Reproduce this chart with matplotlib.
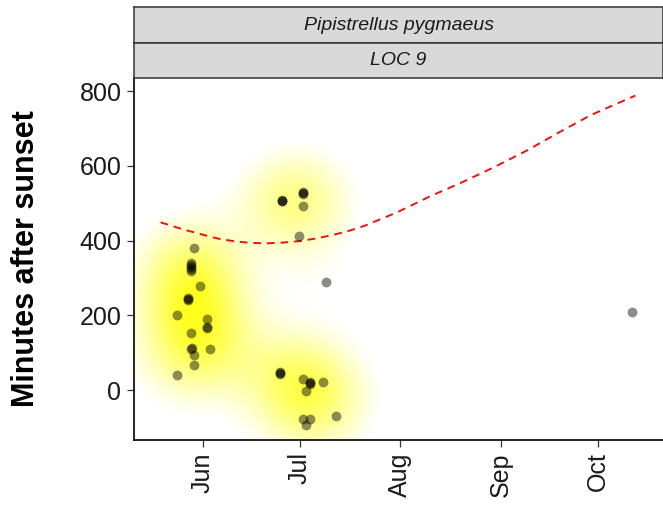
import numpy as np
import matplotlib.pyplot as plt

plt.rcParams['font.family'] = ['Liberation Sans', 'DejaVu Sans']

species = 'Pipistrellus pygmaeus'
site = 'LOC 9'

# day of year (1 Jun = 152) and minutes after sunset of each bat pass
call_day = [149.4, 148.3, 148.3, 148.3, 148.3, 148.3, 151.3, 147.4, 147.4, 147.4,
            144.2, 153.4, 153.4, 153.4, 148.3, 148.3, 148.6, 149.4, 154.3, 149.4, 144.2,
            176.6, 176.6, 176.6, 183.0, 183.0, 183.0, 183.0, 181.8, 189.9,
            175.8, 175.8, 175.8, 182.8, 185.0, 185.0, 185.0, 189.1, 184.0,
            182.8, 185.0, 184.0, 193.0,
            284.4]
call_min = [381, 341, 336, 330, 324, 318, 280, 242, 244, 246,
            202, 191, 166, 169, 153, 110, 112, 94, 110, 68, 42,
            505, 507, 509, 526, 528, 530, 492, 412, 290,
            44, 47, 50, 30, 18, 20, 22, 22, -3,
            -76, -76, -93, -69,
            210]

# night length (sunrise in minutes after sunset)
night_day = [139, 146, 152, 157, 162, 167, 172, 177, 182, 187, 192, 197, 202,
             212, 222, 232, 242, 252, 262, 272, 285.5]
night_min = [449, 430, 416, 405, 398, 394, 393, 395, 399, 406, 415, 426, 440,
             476, 518, 556, 597, 641, 690, 737, 788]

month_days = [152, 182, 213, 244, 274]
month_labels = ['Jun', 'Jul', 'Aug', 'Sep', 'Oct']
y_ticks = [0, 200, 400, 600, 800]

xlim = (130.8, 294.0)
ylim = (-133, 835)

fig = plt.figure(figsize=(6.63, 5.07), dpi=100)
ax = fig.add_axes([134 / 663, 1 - 440 / 507, 529 / 663, 362 / 507])

# 2d kernel density of the passes, white -> yellow
gx = np.linspace(xlim[0], xlim[1], 400)
gy = np.linspace(ylim[0], ylim[1], 400)
X, Y = np.meshgrid(gx, gy)
dens = np.zeros_like(X)
for xd, yd in zip(call_day, call_min):
    dens += np.exp(-0.5 * (((X - xd) / 11.5) ** 2 + ((Y - yd) / 90.0) ** 2))
dens /= dens.max()
rgba = np.zeros(X.shape + (4,))
rgba[..., 0] = 1.0
rgba[..., 1] = 1.0
rgba[..., 2] = 0.0
rgba[..., 3] = 0.88 * np.clip((dens - 0.12) / 0.85, 0, 1)
ax.imshow(rgba, extent=(xlim[0], xlim[1], ylim[0], ylim[1]), origin='lower',
          aspect='auto', interpolation='bilinear', zorder=0)

ax.plot(night_day, night_min, color='#EE1111', lw=1.4, dashes=(4, 3), zorder=2)
ax.scatter(call_day, call_min, s=50, color='black', alpha=0.45, linewidths=0, zorder=3)

ax.set_xlim(xlim)
ax.set_ylim(ylim)
ax.set_xticks(month_days)
ax.set_xticklabels(month_labels, rotation=90)
ax.set_yticks(y_ticks)
ax.tick_params(labelsize=18, length=5, width=0.9, color='#333333', pad=4,
               labelcolor='#1A1A1A')
for s in ['top', 'right']:
    ax.spines[s].set_visible(False)
for s in ['left', 'bottom']:
    ax.spines[s].set_linewidth(1.2)
    ax.spines[s].set_color('black')
ax.set_ylabel('Minutes after sunset', fontsize=22, fontweight='bold', labelpad=28)

# facet strips
for top, bottom, label in [(7, 43, species), (43, 78, site)]:
    sax = fig.add_axes([134 / 663, 1 - bottom / 507, 529 / 663, (bottom - top) / 507])
    sax.set_facecolor('#D9D9D9')
    sax.set_xticks([])
    sax.set_yticks([])
    for s in sax.spines.values():
        s.set_color('#333333')
        s.set_linewidth(1.1)
    sax.text(0.5, 0.5, label, ha='center', va='center', fontsize=14,
             style='italic', color='#1A1A1A', transform=sax.transAxes)

fig.savefig('out.png', dpi=100)
